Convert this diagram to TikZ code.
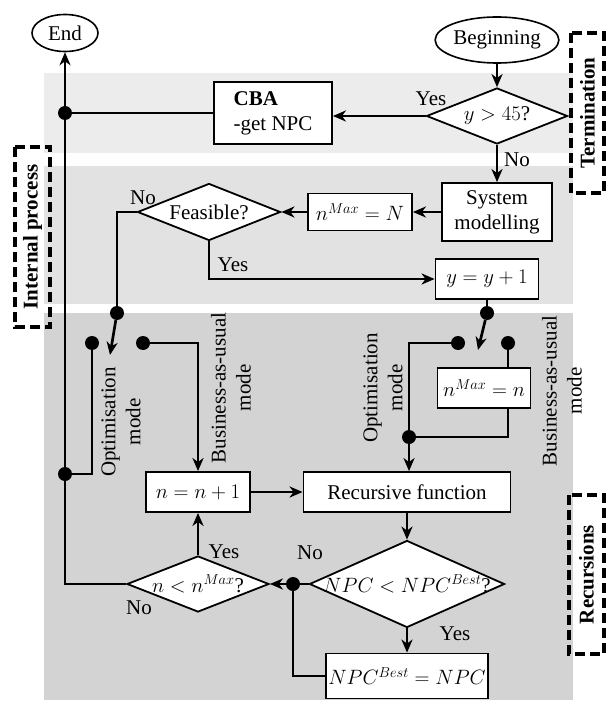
\documentclass[tikz,border=0pt]{standalone}
\usepackage{fontspec}
\setmainfont{Liberation Serif}
\usetikzlibrary{shapes,arrows.meta}
\usepackage{xcolor}

\definecolor{bandA}{RGB}{236,236,236}
\definecolor{bandB}{RGB}{226,226,226}
\definecolor{bandC}{RGB}{211,211,211}

\begin{document}
\begin{tikzpicture}[x=1pt, y=-1pt, >={Stealth[length=13pt,width=11pt,inset=4pt]},
    every node/.style={font=\fontsize{21}{25}\selectfont},
    box/.style={draw, rectangle, fill=white, line width=1.8pt, inner sep=0pt},
    dec/.style={draw, diamond, fill=white, line width=1.8pt, inner sep=0pt},
    term/.style={draw, ellipse, fill=white, line width=1.6pt, inner sep=0pt},
    dot/.style={circle, fill=black, inner sep=0pt, minimum size=14pt},
    link/.style={line width=2.7pt},
    phase/.style={draw, dash pattern=on 10pt off 5pt, line width=3.2pt, rotate=90, inner sep=0pt, font=\fontsize{21}{25}\selectfont\bfseries}]
    \useasboundingbox (0,0) rectangle (611,708);

    % shaded stages
    \fill[bandA] (44,73) rectangle (573,153);
    \fill[bandB] (44,166) rectangle (573,304);
    \fill[bandC] (44,313) rectangle (573,700);

    % start and stop
    \node[term, minimum width=66pt, minimum height=37pt] (End) at (65,33) {End};
    \node[term, minimum width=112pt, minimum height=46pt] (Beg) at (497,40) {Beginning};

    % termination stage
    \node[dec, minimum width=141pt, minimum height=56pt] (dY) at (497,116) {\makebox[0pt]{$y>45$?}};
    \node[box, minimum width=118pt, minimum height=62pt, align=left] (CBA) at (273,113) {\textbf{CBA}\\-get NPC};

    % internal process stage
    \node[box, minimum width=110pt, minimum height=58pt, align=center] (SM) at (497,212) {System\\modelling};
    \node[box, minimum width=104pt, minimum height=37pt] (nN) at (360,212) {$n^{Max}=N$};
    \node[dec, minimum width=143pt, minimum height=57pt] (dF) at (209,212) {\makebox[0pt]{Feasible?}};
    \node[box, minimum width=103pt, minimum height=40pt] (yy) at (487,279) {$y=y+1$};

    % recursions stage
    \node[box, minimum width=104pt, minimum height=40pt] (nn) at (198,492) {$n=n+1$};
    \node[box, minimum width=207pt, minimum height=40pt] (RF) at (407,492) {Recursive function};
    \node[box, minimum width=93pt, minimum height=40pt] (nMn) at (484,388) {$n^{Max}=n$};
    \node[dec, minimum width=195pt, minimum height=87pt] (dN) at (407,584) {\makebox[0pt]{$NPC<NPC^{Best}$?}};
    \node[dec, minimum width=142pt, minimum height=56pt] (dn) at (198,584) {\makebox[0pt]{$n<n^{Max}$?}};
    \node[box, minimum width=162pt, minimum height=45pt] (NB) at (407,676) {$NPC^{Best}=NPC$};

    % junctions
    \node[dot] (j1) at (65,113) {};
    \node[dot] (j2) at (117,313) {};
    \node[dot] (j3) at (487,313) {};
    \node[dot] (j4) at (92,343) {};
    \node[dot] (j5) at (143,343) {};
    \node[dot] (j6) at (65,474) {};
    \node[dot] (j7) at (458,343) {};
    \node[dot] (j8) at (508,343) {};
    \node[dot] (j9) at (409,437) {};
    \node[dot] (j10) at (293,584) {};
    \coordinate (a1) at (110,355);
    \coordinate (a2) at (478,350);

    % mode labels
    \node[rotate=90, align=center] (oL) at (121,422) {Optimisation\\mode};
    \node[rotate=90, align=center] (bL) at (231,388) {Business-as-usual\\mode};
    \node[rotate=90, align=center] (oR) at (383,388) {Optimisation\\mode};
    \node[rotate=90, align=center] (bR) at (562,391) {Business-as-usual\\mode};

    % stage tags
    \node[phase, minimum width=160pt, minimum height=33pt] (pT) at (587.5,113) {Termination};
    \node[phase, minimum width=180pt, minimum height=35pt] (pI) at (32.5,237) {Internal process};
    \node[phase, minimum width=159pt, minimum height=35pt] (pR) at (586.5,574.5) {Recursions};

    % connectors
    \draw[link,->] (Beg) -- (dY);
    \draw[link,->] (dY.west) -- (dY.west -| CBA.east);
    \draw[link] (CBA.west) -- (j1);
    \draw[link,->] (dY) -- (SM);
    \draw[link,->] (SM) -- (nN);
    \draw[link,->] (nN) -- (dF);
    \draw[link] (dF.west) -| (j2);
    \draw[link,->] (dF.south) |- (yy.west);
    \draw[link] (yy) -- (j3);
    \draw[link,->] (j2) -- (a1);
    \draw[link,->] (j3) -- (a2);
    \draw[link] (j4) |- (j6);
    \draw[link,->] (j5) -| (nn);
    \draw[link,->] (nn) -- (RF);
    \draw[link] (j7) -| (j9);
    \draw[link,->] (j9) -- (j9 |- RF.north);
    \draw[link] (j8) -- (j8 |- nMn.north);
    \draw[link] (j8 |- nMn.south) |- (j9);
    \draw[link,->] (RF) -- (dN);
    \draw[link,->] (dN) -- (dn);
    \draw[link,->] (dN) -- (NB);
    \draw[link] (NB) -| (j10);
    \draw[link,->] (dn) -- (nn);
    \draw[link,->] (dn.west) -| (End);

    % answers
    \node (lY1) at (431,99) {Yes};
    \node (lN1) at (517,160) {No};
    \node (lN2) at (143,198) {No};
    \node (lY2) at (233,265) {Yes};
    \node (lY3) at (224,552) {Yes};
    \node (lN3) at (310,553) {No};
    \node (lN4) at (139,608) {No};
    \node (lY4) at (455,634) {Yes};
\end{tikzpicture}
\end{document}
